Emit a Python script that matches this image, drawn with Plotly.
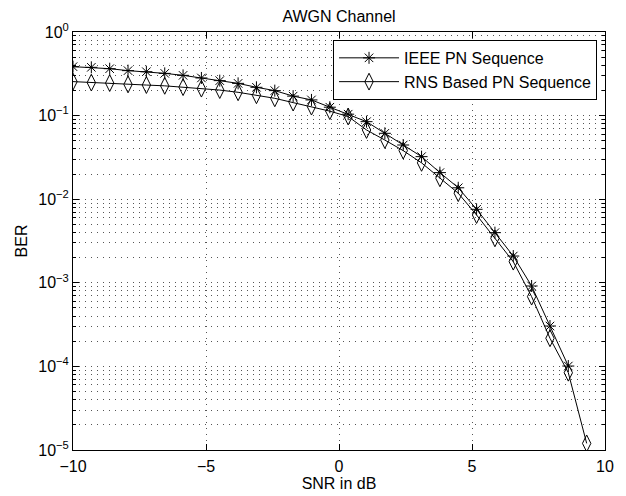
import plotly.graph_objects as go

snr = [-10 + i * 20 / 29 for i in range(29)]

ieee_ber = [0.385, 0.378, 0.364, 0.345, 0.335, 0.320, 0.303, 0.282, 0.262, 0.243,
            0.218, 0.199, 0.171, 0.154, 0.126, 0.104, 0.0846, 0.0614, 0.0445, 0.0323,
            0.0208, 0.0137, 0.00757, 0.00398, 0.00209, 0.000916, 0.000304, 0.000101]
rns_ber = [0.255, 0.248, 0.245, 0.236, 0.232, 0.227, 0.219, 0.210, 0.202, 0.190,
           0.175, 0.161, 0.143, 0.128, 0.113, 0.0975, 0.0673, 0.051, 0.0381, 0.0272,
           0.0178, 0.0118, 0.00647, 0.0034, 0.00179, 0.000683, 0.000217, 8.4e-5, 1.2e-5]

y_tickvals = [1e-5, 1e-4, 1e-3, 1e-2, 1e-1, 1e0]
y_ticktext = ["10<sup>−5</sup>", "10<sup>−4</sup>", "10<sup>−3</sup>",
              "10<sup>−2</sup>", "10<sup>−1</sup>", "10<sup>0</sup>"]
x_tickvals = [-10, -5, 0, 5, 10]

font_family = "Liberation Sans, Arial, sans-serif"
grid_color = "#555555"
grid_dash = "1px,5px"

fig = go.Figure()
fig.add_trace(go.Scatter(
    x=snr[:len(ieee_ber)], y=ieee_ber, mode="lines+markers",
    name="IEEE PN Sequence",
    line=dict(color="black", width=1),
    marker=dict(symbol="asterisk-open", size=10, color="black",
                line=dict(color="black", width=1)),
))
fig.add_trace(go.Scatter(
    x=snr[:len(rns_ber)], y=rns_ber, mode="lines+markers",
    name="RNS Based PN Sequence",
    line=dict(color="black", width=1),
    marker=dict(symbol="diamond-tall-open", size=12, color="black",
                line=dict(color="black", width=1)),
))

fig.update_layout(
    width=618, height=488,
    margin=dict(l=65, r=21, t=24, b=46, autoexpand=False),
    paper_bgcolor="white", plot_bgcolor="white",
    font=dict(family=font_family, size=16, color="black"),
    title=dict(text="AWGN Channel", x=0.5, xanchor="center",
               xref="paper", y=1 - 8 / 488, yanchor="middle",
               font=dict(size=16)),
    showlegend=True,
    legend=dict(x=0.985, y=0.981, xanchor="right", yanchor="top",
                bgcolor="white", bordercolor="black", borderwidth=1,
                font=dict(size=16), tracegroupgap=0, itemwidth=60),
)

fig.update_xaxes(
    range=[-10, 10], tickvals=x_tickvals,
    showline=True, linecolor="black", linewidth=1, mirror="ticks",
    ticks="inside", ticklen=6, tickcolor="black",
    showgrid=True, gridcolor=grid_color, griddash=grid_dash, gridwidth=1,
    zeroline=False, ticklabelstandoff=2,
    title=dict(text="SNR in dB", font=dict(size=16), standoff=2),
    tickfont=dict(size=16),
)
fig.update_yaxes(
    type="log", range=[-5, 0], tickvals=y_tickvals, ticktext=y_ticktext,
    showline=True, linecolor="black", linewidth=1, mirror="ticks",
    ticks="inside", ticklen=6, tickcolor="black",
    showgrid=True, gridcolor=grid_color, griddash=grid_dash, gridwidth=1,
    zeroline=False,
    minor=dict(dtick="D1", ticks="inside", ticklen=3, tickcolor="black",
               showgrid=True, gridcolor=grid_color, griddash=grid_dash, gridwidth=1),
    title=dict(text="BER", font=dict(size=16), standoff=6),
    tickfont=dict(size=16),
)

fig.write_html("out.html")
